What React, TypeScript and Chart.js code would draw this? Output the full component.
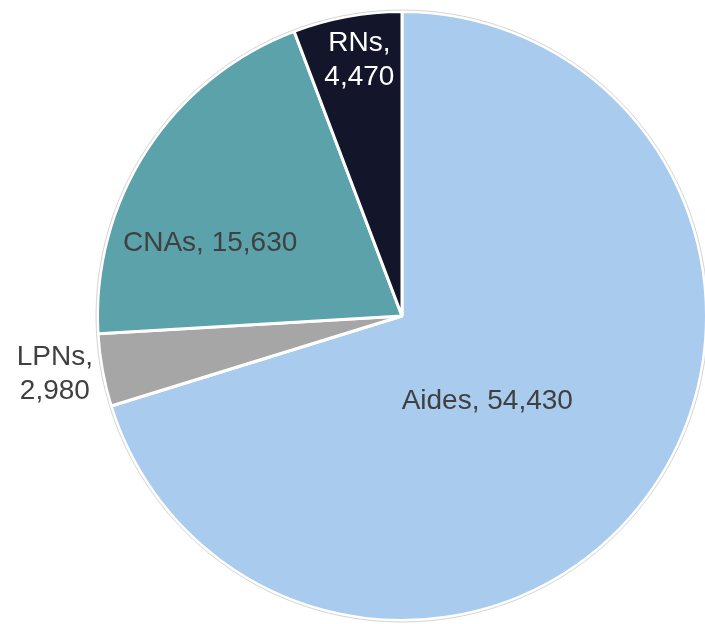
import React, { useEffect, useRef } from "react";
import { Chart, registerables } from "chart.js";

Chart.register(...registerables);

const categories = ["Aides", "LPNs", "CNAs", "RNs"];
const values = [54430, 2980, 15630, 4470];
const sliceColors = ["#A9CBEE", "#A6A6A6", "#5BA2AB", "#13152A"];
const labelColors = ["#404040", "#404040", "#404040", "#FFFFFF"];
// label anchor offsets relative to the pie centre, as fractions of the radius
const labelOffsets: [number, number][] = [
  [0.28, 0.28],
  [-1.14, 0.19],
  [-0.63, -0.24],
  [-0.14, -0.84],
];
const labelSplit = [false, true, false, true];

const fmt = (v: number) => v.toLocaleString("en-US");

const labelPlugin = {
  id: "sliceLabels",
  afterDatasetsDraw(chart: any) {
    const meta = chart.getDatasetMeta(0);
    const ctx = chart.ctx as CanvasRenderingContext2D;
    ctx.save();
    // thin outer outline
    const a0 = meta.data[0];
    ctx.beginPath();
    ctx.arc(a0.x, a0.y, a0.outerRadius + 1.5, 0, Math.PI * 2);
    ctx.strokeStyle = "#d4d4d4";
    ctx.lineWidth = 1;
    ctx.stroke();

    ctx.font = '28px "Liberation Sans", Arial, sans-serif';
    ctx.textAlign = "center";
    ctx.textBaseline = "middle";
    meta.data.forEach((arc: any, i: number) => {
      const r = arc.outerRadius;
      const x = arc.x + labelOffsets[i][0] * r;
      const y = arc.y + labelOffsets[i][1] * r;
      ctx.fillStyle = labelColors[i];
      const name = categories[i] + ",";
      const val = fmt(values[i]);
      if (labelSplit[i]) {
        ctx.fillText(name, x, y - 17);
        ctx.fillText(val, x, y + 17);
      } else {
        ctx.fillText(name + " " + val, x, y);
      }
    });
    ctx.restore();
  },
};

export default function App() {
  const ref = useRef<HTMLCanvasElement>(null);
  useEffect(() => {
    if (!ref.current) return;
    const chart = new Chart(ref.current, {
      type: "pie",
      data: {
        labels: categories,
        datasets: [
          {
            data: values,
            backgroundColor: sliceColors,
            borderColor: "#FFFFFF",
            borderWidth: 3,
          },
        ],
      },
      options: {
        responsive: false,
        animation: false,
        layout: { padding: { left: 96, top: 10, right: 12, bottom: 18 } },
        plugins: { legend: { display: false }, tooltip: { enabled: false } },
      },
      plugins: [labelPlugin],
    });
    return () => chart.destroy();
  }, []);
  return (
    <div
      style={{
        position: "fixed",
        left: 0,
        top: 0,
        width: 705,
        height: 624,
        overflow: "hidden",
        background: "#fff",
      }}
    >
      <canvas ref={ref} width={720} height={640} style={{ display: "block" }} />
    </div>
  );
}
